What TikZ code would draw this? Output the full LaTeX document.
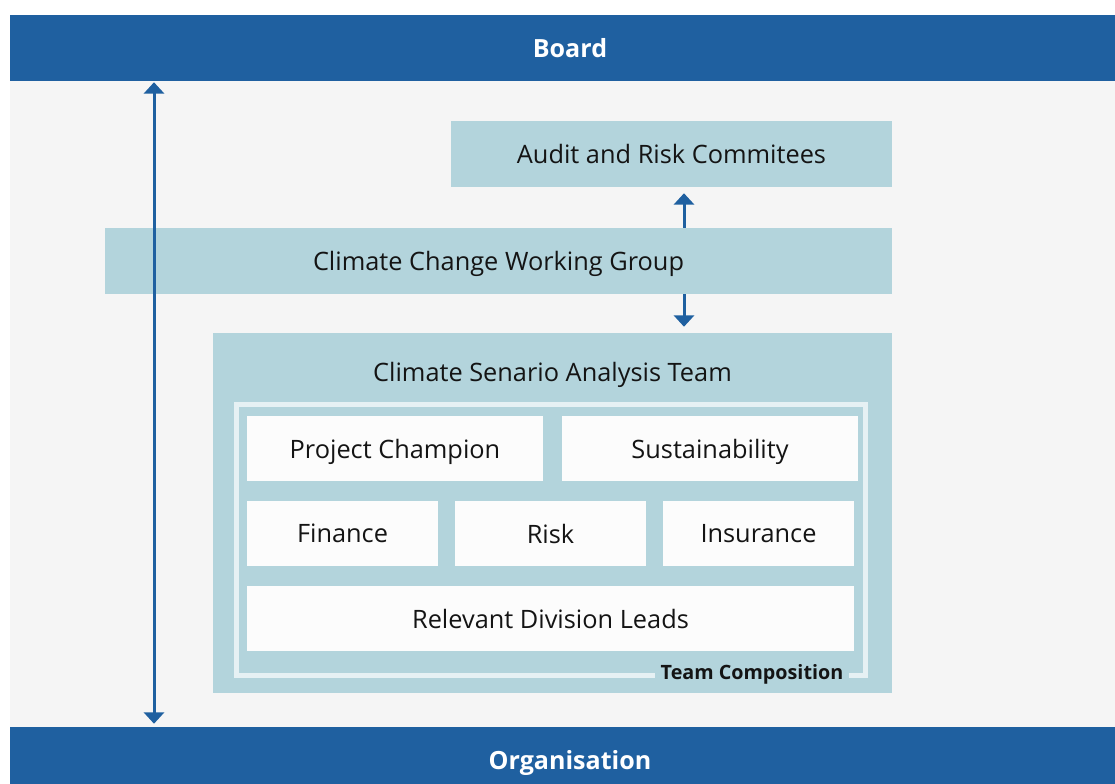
\documentclass[tikz,border=0pt]{standalone}
\usepackage{fontspec}
\setmainfont{Open Sans}
\usetikzlibrary{arrows.meta}

\definecolor{govblue}{RGB}{31,96,160}
\definecolor{govteal}{RGB}{179,212,220}
\definecolor{govframe}{RGB}{230,241,244}
\definecolor{govpaper}{RGB}{245,245,245}
\definecolor{govwhite}{RGB}{252,252,252}
\definecolor{govtext}{RGB}{20,20,20}

\begin{document}
\begin{tikzpicture}[
  x=0.75pt, y=-0.75pt,
  font=\fontsize{19}{23}\selectfont, text=govtext,
  sz/.style 2 args={minimum width=#1*0.75pt,minimum height=#2*0.75pt},
  bar/.style={fill=govblue,text=white,inner sep=0pt,text depth=0pt,font=\fontsize{18.8}{22}\selectfont\bfseries},
  tier/.style={fill=govteal,inner sep=0pt,text depth=0pt},
  member/.style={fill=govwhite,inner sep=0pt,text depth=0pt},
  link/.style={draw=govblue,line width=2.25pt},
  >={Triangle[width=15pt,length=8.5pt]}]
\useasboundingbox (0,0) rectangle (1115,784);
\fill[govpaper] (10,15) rectangle (1115,784);

% top and bottom bands (run past the right edge)
\node[bar,sz={1120}{66}] (board) at (570,48)  {Board};
\node[bar,sz={1120}{66}] (org)   at (570,760) {Organisation};

% governance tiers
\node[tier,sz={441}{66}]  (audit) at (671.5,154) {Audit and Risk Commitees};
\node[tier,sz={787}{66}]  (ccwg)  at (498.5,261) {Climate Change Working Group};
\node[tier,sz={679}{360}] (csat)  at (552.5,513) {};
\node[text depth=0pt] (csatlbl) at (552.5,372) {Climate Senario Analysis Team};

% team composition frame
\draw[govframe,line width=3.75pt] (236,404.5) rectangle (865,675);
\node[fill=govteal,inner xsep=4pt,inner ysep=1pt,text depth=0pt,font=\fontsize{14.8}{17}\selectfont\bfseries]
      (compo) at (752,672) {Team Composition};
\node[member,sz={296}{65}] (champ) at (395,448.5)   {Project Champion};
\node[member,sz={296}{65}] (sust)  at (710,448.5)   {Sustainability};
\node[member,sz={191}{65}] (fin)   at (342.5,533.5) {Finance};
\node[member,sz={191}{65}] (risk)  at (550.5,533.5) {Risk};
\node[member,sz={191}{65}] (ins)   at (758.5,533.5) {Insurance};
\node[member,sz={607}{65}] (leads) at (550.5,618.5) {Relevant Division Leads};

% reporting lines
\coordinate (spine) at (154,0);
\coordinate (hub)   at (684,0);
\draw[link,<->,shorten <=0.75pt,shorten >=2.25pt] (board.south -| spine) -- (org.north -| spine);
\draw[link,->,shorten >=4.5pt] (ccwg.north -| hub) -- (audit.south -| hub);
\draw[link,->,shorten >=4.5pt] (ccwg.south -| hub) -- (csat.north -| hub);
\end{tikzpicture}
\end{document}
